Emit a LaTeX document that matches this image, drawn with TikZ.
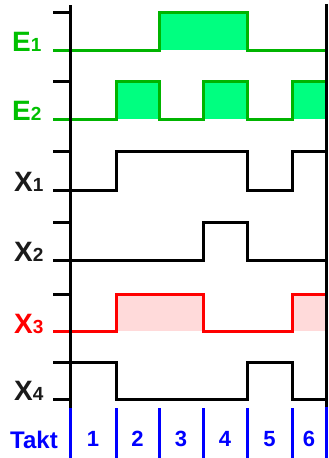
\documentclass[tikz,border=0pt]{standalone}
\usepackage{fontspec}
\setmainfont{Liberation Sans}
\definecolor{gline}{HTML}{00B400}
\definecolor{gfill}{HTML}{00FF80}
\definecolor{glab}{HTML}{00C000}
\definecolor{pfill}{HTML}{FFDADA}
\definecolor{tblue}{HTML}{0000FF}
\definecolor{xlab}{HTML}{1A1A1A}
\newcommand{\biglet}[1]{{\fontsize{28}{28}\selectfont\bfseries #1}}
\newcommand{\ssub}[1]{{\fontsize{19}{19}\selectfont\bfseries #1}}
\begin{document}
\begin{tikzpicture}[x=1pt,y=-1pt,
  sig/.style={line width=3pt,line join=miter},
  ax/.style={line width=3pt,black},
  tk/.style={line width=3pt,tblue},
  lab/.style={anchor=base west,inner sep=0pt},
  num/.style={anchor=base,inner sep=0pt,text=tblue,font=\fontsize{22}{22}\selectfont\bfseries}]
\useasboundingbox (0,0) rectangle (329,458);
% fills
\fill[gfill] (159,50) rectangle (247,12);
\fill[gfill] (116,119) rectangle (159,81);
\fill[gfill] (203,119) rectangle (247,81);
\fill[gfill] (292,119) rectangle (326,81);
\fill[pfill] (116,331) rectangle (203,294);
\fill[pfill] (292,331) rectangle (326,294);
% upper ticks
\foreach \y in {12,81,151,222,294} \draw[ax] (53,\y) -- (70,\y);
% signals
\draw[sig,gline] (53,50) -- (159,50) -- (159,12) -- (247,12) -- (247,50) -- (326,50);
\draw[sig,gline] (53,119) -- (116,119) -- (116,81) -- (159,81) -- (159,119) -- (203,119) -- (203,81) -- (247,81) -- (247,119) -- (292,119) -- (292,81) -- (326,81);
\draw[sig,black] (53,190) -- (116,190) -- (116,151) -- (247,151) -- (247,190) -- (292,190) -- (292,151) -- (326,151);
\draw[sig,black] (53,260) -- (203,260) -- (203,222) -- (247,222) -- (247,260) -- (326,260);
\draw[sig,red] (53,331) -- (116,331) -- (116,294) -- (203,294) -- (203,331) -- (292,331) -- (292,294) -- (326,294);
\draw[sig,black] (53,362) -- (116,362) -- (116,399) -- (247,399) -- (247,362) -- (292,362) -- (292,399) -- (326,399);
\draw[ax] (53,399) -- (70,399);
% axes
\draw[ax] (70,5) -- (70,408);
\draw[ax] (326,4) -- (326,407);
\draw[tk] (70,408) -- (70,458);
\draw[tk] (326,407) -- (326,458);
\foreach \x in {116,159,203,247,292} \draw[tk] (\x,408) -- (\x,458);
% labels
\node[lab,text=glab] (le1) at (12,51) {\biglet{E}\ssub{1}};
\node[lab,text=glab] (le2) at (12,120) {\biglet{E}\ssub{2}};
\node[lab,text=xlab] (lx1) at (14,191) {\biglet{X}\ssub{1}};
\node[lab,text=xlab] (lx2) at (14,261) {\biglet{X}\ssub{2}};
\node[lab,text=red] (lx3) at (14,333) {\biglet{X}\ssub{3}};
\node[lab,text=xlab] (lx4) at (14,400) {\biglet{X}\ssub{4}};
\node[lab,text=tblue,font=\fontsize{24}{24}\selectfont\bfseries] (takt) at (10,448) {Takt};
\node[num] (n1) at (93,446) {1};
\node[num] (n2) at (137.5,446) {2};
\node[num] (n3) at (181,446) {3};
\node[num] (n4) at (225,446) {4};
\node[num] (n5) at (269.5,446) {5};
\node[num] (n6) at (309,446) {6};
\end{tikzpicture}
\end{document}
